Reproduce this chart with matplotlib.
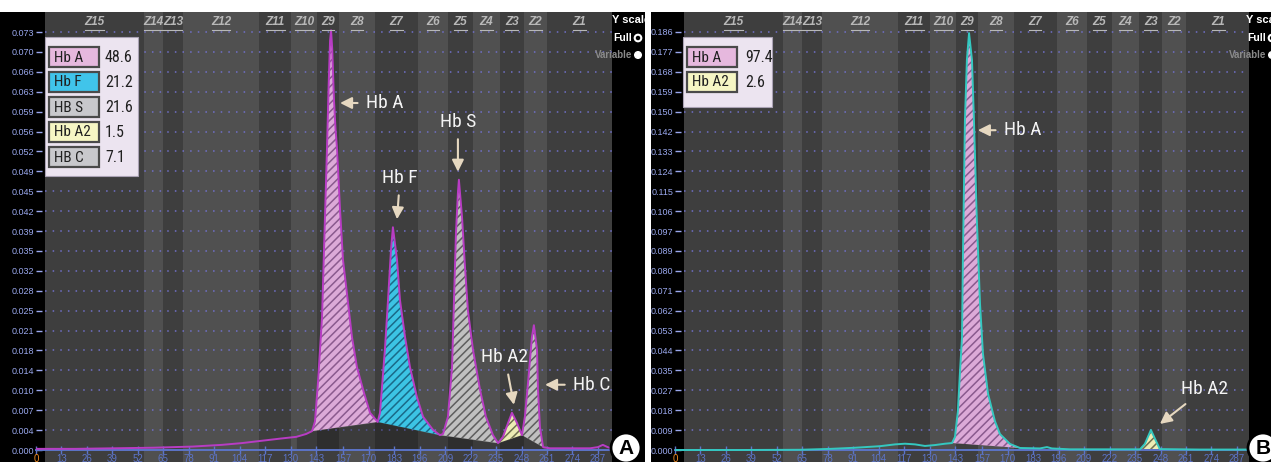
import matplotlib
matplotlib.use('Agg')
import matplotlib.pyplot as plt
import matplotlib.transforms as mtransforms
from matplotlib.patches import Rectangle, Circle
import logging
logging.getLogger('matplotlib.font_manager').setLevel(logging.ERROR)

W, H, DPI = 1271, 462, 100
plt.rcParams['hatch.linewidth'] = 1.1
COND = ['Roboto Condensed', 'Liberation Sans Narrow', 'Liberation Sans',
        'DejaVu Sans']
SANS = ['Liberation Sans', 'DejaVu Sans']
plt.rcParams['font.family'] = SANS

# ---------------- data ----------------
zone_names = ['Z15', 'Z14', 'Z13', 'Z12', 'Z11', 'Z10', 'Z9', 'Z8', 'Z7',
              'Z6', 'Z5', 'Z4', 'Z3', 'Z2', 'Z1']
zone_edges = [4.5, 55, 65, 75, 114, 130.5, 143.5, 155, 173, 195, 210.5,
              223, 237, 249, 261, 294]

x_ticks = [0, 13, 26, 39, 52, 65, 78, 91, 104, 117, 130, 143, 157, 170,
           183, 196, 209, 222, 235, 248, 261, 274, 287]

ytick_labels_A = ['0.000', '0.004', '0.007', '0.010', '0.014', '0.018',
                  '0.021', '0.025', '0.028', '0.032', '0.035', '0.039',
                  '0.042', '0.045', '0.049', '0.052', '0.056', '0.059',
                  '0.063', '0.066', '0.070', '0.073']
ytick_labels_B = ['0.000', '0.009', '0.018', '0.027', '0.035', '0.044',
                  '0.053', '0.062', '0.071', '0.080', '0.089', '0.097',
                  '0.106', '0.115', '0.124', '0.133', '0.142', '0.150',
                  '0.159', '0.168', '0.177', '0.186']

# Panel A trace (retention time, absorbance)
trace_A_x = [0, 20, 40, 60, 80, 95, 105, 115, 125, 133, 138, 141.0, 142.5,
             144.0, 146.1, 147.6, 148.6, 149.5, 150.2, 150.7, 151.3, 152.2,
             153.0, 153.8, 155.3, 156.8, 158.8, 161.4, 163.9, 167.5, 170.6,
             174.5, 175.7, 178.2, 179.8, 181.3, 182.3, 184.4, 185.9, 188.5,
             191.0, 194.6, 197.7, 202.8, 206.3, 207.9, 210.4, 212.5, 213.5,
             214.5, 215.5, 216.0, 217.6, 219.1, 220.6, 223.2, 226.8, 229.8,
             233.4, 236.0, 238.5, 241.1, 243.1, 245.7, 248.2, 249.7, 251.3,
             253.3, 254.3, 255.9, 256.4, 257.4, 259.0, 262.5, 283.0, 287.0,
             289.5, 292.0, 294.0]
trace_A_y = [0.0002, 0.0002, 0.0003, 0.0004, 0.0006, 0.0009, 0.0012, 0.0016,
             0.0020, 0.0023, 0.0028, 0.0033, 0.0050, 0.0117, 0.0232, 0.0407,
             0.0524, 0.0640, 0.0715, 0.0733, 0.0700, 0.0611, 0.0560, 0.0524,
             0.0419, 0.0332, 0.0274, 0.0197, 0.0145, 0.0100, 0.0065, 0.0049,
             0.0065, 0.0175, 0.0262, 0.0349, 0.0389, 0.0332, 0.0262, 0.0197,
             0.0145, 0.0092, 0.0058, 0.0035, 0.0026, 0.0028, 0.0058, 0.0145,
             0.0262, 0.0379, 0.0449, 0.0472, 0.0407, 0.0320, 0.0244, 0.0175,
             0.0105, 0.0058, 0.0026, 0.0012, 0.0023, 0.0047, 0.0065, 0.0047,
             0.0026, 0.0058, 0.0117, 0.0197, 0.0218, 0.0175, 0.0105, 0.0040,
             0.0005, 0.0003, 0.0003, 0.0005, 0.0009, 0.0005, 0.0003]
# integration baseline valleys (panel A)
valley_A_x = [133, 141.0, 174.5, 206.3, 236.0, 248.2, 259.0]
valley_A_y = [0.0023, 0.0033, 0.0049, 0.0026, 0.0012, 0.0026, 0.0005]

# Panel B trace
trace_B_x = [0, 33.2, 63.8, 79.2, 91.9, 104.7, 112.4, 117.5, 122.6, 127.7,
             132.8, 137.9, 141.5, 143.0, 144.5, 145.6, 146.6, 147.1, 148.1,
             149.1, 150.2, 151.7, 152.7, 154.2, 155.8, 157.3, 159.9, 163.4,
             166.0, 171.1, 176.2, 186.4, 190.0, 192.5, 201.7, 237.5, 240.0,
             243.1, 245.7, 247.7, 268.1, 293.2]
trace_B_y = [0.0000, 0.0000, 0.0001, 0.0005, 0.0010, 0.0017, 0.0025, 0.0028,
             0.0025, 0.0018, 0.0022, 0.0028, 0.0031, 0.0058, 0.0174, 0.0352,
             0.0500, 0.0874, 0.1467, 0.1735, 0.1855, 0.1735, 0.1467, 0.1021,
             0.0651, 0.0428, 0.0250, 0.0129, 0.0071, 0.0027, 0.0009, 0.0007,
             0.0013, 0.0007, 0.0003, 0.0003, 0.0027, 0.0089, 0.0040, 0.0004,
             0.0002, 0.0002]

# peaks: (name, start, end)
peaks_A = [('Hb A', 141.0, 174.5), ('Hb F', 174.5, 206.3),
           ('HB S', 206.3, 236.0), ('Hb A2', 236.0, 248.2),
           ('HB C', 248.2, 259.0)]
peaks_B = [('Hb A', 141.5, 176.2), ('Hb A2', 237.5, 247.7)]

legend_A_labels = ['Hb A', 'Hb F', 'HB S', 'Hb A2', 'HB C']
legend_A_values = [48.6, 21.2, 21.6, 1.5, 7.1]
legend_B_labels = ['Hb A', 'Hb A2']
legend_B_values = [97.4, 2.6]

# ---------------- styles ----------------
swatch = {'Hb A': '#e6b8de', 'Hb F': '#40c4ea', 'HB S': '#c8c8cc',
          'Hb A2': '#f6f6c4', 'HB C': '#c8c8cc'}
fillc = {'Hb A': ('#dcaad8', '#8a5a8e'), 'Hb F': ('#3cc4e4', '#1a6a88'),
         'HB S': ('#c0c0c0', '#5e5e5e'), 'Hb A2': ('#ececb4', '#707050'),
         'HB C': ('#c0c0c0', '#5e5e5e')}
BAND_DARK, BAND_LIGHT = '#3e3e3e', '#505050'
TICK_BLUE = '#5c74c8'
YLAB = '#9aa8ee'
ARROW = '#e6d8c0'

fig = plt.figure(figsize=(W / DPI, H / DPI), dpi=DPI, facecolor='white')


def fax(x0, x1, ytop, ybot, z):
    return fig.add_axes([x0 / W, 1 - ybot / H, (x1 - x0) / W, (ybot - ytop) / H],
                        zorder=z)


def panel(px0, px1, axl, axr, xmax, ytop, ylabels, tx, ty, lcolor, peaks,
          valley, leg_labels, leg_values, leg_box, annots, letter, letter_x,
          yscale_x):
    bg = fax(px0, px1, 12, 462, 0)
    bg.set_facecolor('black')
    bg.set_xticks([]); bg.set_yticks([])
    for s in bg.spines.values():
        s.set_visible(False)

    ax = fax(axl, axr, 12, 462, 1)
    ppu = (450 - 32) / ytop
    ax.set_xlim(0, xmax)
    ax.set_ylim(-12 / ppu, ytop + 20 / ppu)
    ax.set_facecolor('black')
    for i, (a, b) in enumerate(zip(zone_edges[:-1], zone_edges[1:])):
        ax.axvspan(a, b, color=BAND_DARK if i % 2 == 0 else BAND_LIGHT,
                   lw=0, zorder=0.1)
    ypos = [ytop * i / (len(ylabels) - 1) for i in range(len(ylabels))]
    ax.hlines(ypos[1:], zone_edges[0], xmax, colors='#7070c8',
              linestyles=(0, (1, 4)), lw=1.1, zorder=0.5)
    # zone labels
    bt = mtransforms.blended_transform_factory(ax.transData, ax.transAxes)
    for name, a, b in zip(zone_names, zone_edges[:-1], zone_edges[1:]):
        c = (a + b) / 2
        ax.text(c, 0.978, name, transform=bt, ha='center', va='center',
                fontsize=8.5, fontweight='bold', fontstyle='italic',
                color='#b8b8b8', zorder=4)
        hw = len(name) * 1.6
        ax.plot([c - hw, c + hw], [0.961, 0.961], transform=bt,
                color='#b8b8b8', lw=0.8, zorder=4)

    # baseline shadow
    if valley is not None:
        ax.fill_between(valley[0], 0, valley[1], color='black', alpha=0.25,
                        lw=0, zorder=1.5)
    # hatched peaks
    for name, s, e in peaks:
        px = [x for x in tx if s <= x <= e]
        py = [y for x, y in zip(tx, ty) if s <= x <= e]
        fc, hc = fillc[name]
        ax.fill(px, py, facecolor=fc, edgecolor=hc, hatch='////', lw=0,
                zorder=2)
    ax.plot(tx, ty, color=lcolor, lw=1.4, zorder=3)

    # axes decoration
    for k in ('top', 'right', 'left'):
        ax.spines[k].set_visible(False)
    ax.spines['bottom'].set_position(('data', 0))
    ax.spines['bottom'].set_color(TICK_BLUE)
    ax.spines['bottom'].set_linewidth(1.4)
    ax.set_xticks(x_ticks)
    ax.set_xticklabels([str(t) for t in x_ticks])
    ax.tick_params(axis='x', direction='inout', length=6, width=1,
                   colors=TICK_BLUE, labelsize=7, pad=0)
    ax.get_xticklabels()[0].set_color('#f08a20')
    ax.xaxis.get_major_ticks()[0].tick1line.set_color('#f08a20')
    ax.set_yticks(ypos)
    ax.set_yticklabels(ylabels)
    ax.tick_params(axis='y', direction='in', length=4, width=1,
                   colors=YLAB, labelsize=6.5, pad=1)

    # peak annotations
    for txt, xt, yt, xh, yh, ha in annots:
        ax.annotate(txt, xy=(xh, yh), xytext=(xt, yt), ha=ha, va='center',
                    fontsize=14, color='#f4f4f4', family=COND, zorder=6,
                    arrowprops=dict(arrowstyle='-|>,head_length=0.5,head_width=0.25',
                                    color=ARROW, lw=1.5, shrinkA=4, shrinkB=0))

    # overlay (image pixel coordinates)
    ov = fax(px0, px1, 12, 462, 2)
    ov.set_xlim(px0, px1)
    ov.set_ylim(462, 12)
    ov.axis('off')
    # legend box
    lx, ly, lw_, lh, vx = leg_box
    ov.add_patch(Rectangle((lx, ly), lw_, lh, fc='#ece4f0', ec='#aaa2b4',
                           lw=0.8, zorder=5))
    for i, (lab, val) in enumerate(zip(leg_labels, leg_values)):
        yy = ly + 10 + 25 * i
        ov.add_patch(Rectangle((lx + 4, yy), 50, 20, fc=swatch[lab],
                               ec='#4a4a4a', lw=1.6, zorder=6))
        ov.text(lx + 9, yy + 10.5, lab, ha='left', va='center', fontsize=11,
                color='#202020', family=COND, zorder=7)
        ov.text(lx + vx, yy + 10.5, str(val), ha='left', va='center',
                fontsize=11.5, color='#202020', family=COND, zorder=7)
    # Y scale switch
    rx = yscale_x
    ov.text(rx, 20, 'Y scale', ha='left', va='center', fontsize=8,
            fontweight='bold', color='white', clip_on=True, zorder=7)
    ov.text(rx + 20, 38, 'Full', ha='right', va='center', fontsize=7.5,
            fontweight='bold', color='white', clip_on=True, zorder=7)
    ov.add_patch(Circle((rx + 26, 38), 3.3, fc='none', ec='white', lw=1.5,
                        zorder=7))
    ov.text(rx + 20, 55, 'Variable', ha='right', va='center', fontsize=7,
            fontweight='bold', color='#8a8a8a', clip_on=True, zorder=7)
    ov.add_patch(Circle((rx + 26, 55), 3.3, fc='white', ec='white', lw=1,
                        zorder=7))
    # panel letter
    ov.add_patch(Circle((letter_x, 448), 15, fc='white', ec='black', lw=2,
                        zorder=8))
    ov.text(letter_x, 448, letter, ha='center', va='center', fontsize=15,
            fontweight='bold', color='black', clip_on=True, zorder=9)
    return ax


panel(0, 645, 36, 612, 294.2, 0.073, ytick_labels_A, trace_A_x, trace_A_y,
      '#b83cc4', peaks_A, (valley_A_x, valley_A_y),
      legend_A_labels, legend_A_values, (45, 37, 93, 139, 60),
      [('Hb A', 168.5, 0.0606, 155.3, 0.0606, 'left'),
       ('Hb F', 185.9, 0.0475, 184.4, 0.0403, 'center'),
       ('Hb S', 215.5, 0.0573, 215.5, 0.0486, 'center'),
       ('Hb A2', 239.5, 0.0162, 244.1, 0.0079, 'center'),
       ('Hb C', 274.3, 0.0114, 260.0, 0.0114, 'left')],
      'A', 626, 612)

panel(651, 1271, 675, 1249, 293.2, 0.186, ytick_labels_B, trace_B_x,
      trace_B_y, '#34c8c0', peaks_B, None,
      legend_B_labels, legend_B_values, (683, 37, 89, 70, 62),
      [('Hb A', 168.0, 0.1423, 154.7, 0.1423, 'left'),
       ('Hb A2', 270.7, 0.0272, 247.7, 0.0116, 'center')],
      'B', 1263, 1246)

# white gap between panels
fig.patches.append(Rectangle((645 / W, 0), 6 / W, 1, transform=fig.transFigure,
                             fc='white', ec='none', zorder=10))

fig.savefig('out.png', dpi=DPI, facecolor='white')
